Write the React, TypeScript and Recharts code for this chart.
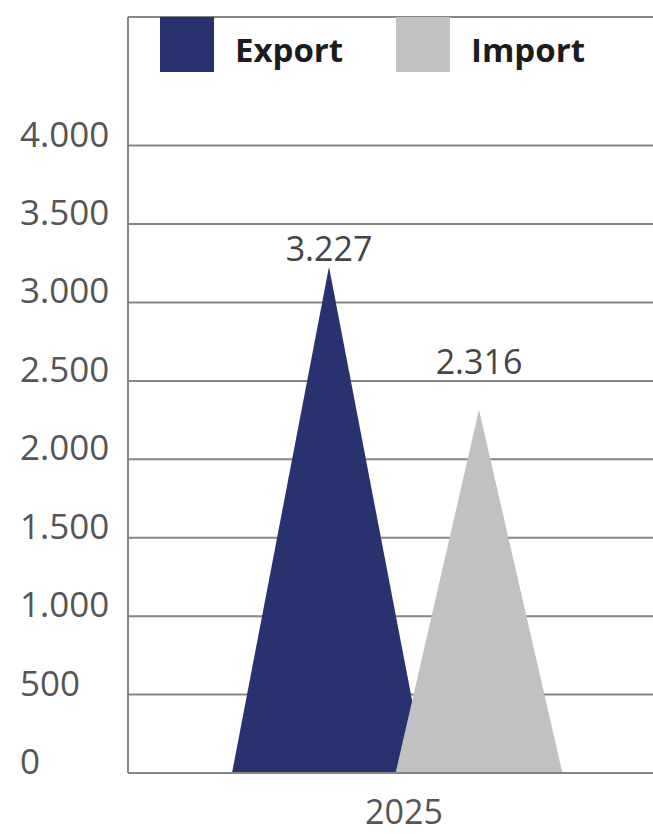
import React from "react";
import { BarChart, Bar, XAxis, YAxis, CartesianGrid, LabelList } from "recharts";

const categories = ["2025"];
const exportValues = [3227];
const importValues = [2316];
const yTicks = [0, 500, 1000, 1500, 2000, 2500, 3000, 3500, 4000];
const seriesNames = ["Export", "Import"];
const seriesColors = ["#28326f", "#c1c1c1"];

const data = categories.map((year, i) => ({
  year,
  Export: exportValues[i],
  Import: importValues[i],
}));

const FONT = "'Open Sans', sans-serif";
const GRID = "#858585";

// 3227 -> "3.227"
function fmt(v: number) {
  return String(v).replace(/\B(?=(\d{3})+(?!\d))/g, ".");
}

function triangle(scale: number) {
  return (props: any) => {
    const { x, y, width, height, fill } = props;
    const cx = x + width / 2;
    const half = (width * scale) / 2;
    return (
      <path
        d={`M${cx - half},${y + height} L${cx},${y} L${cx + half},${y + height} Z`}
        fill={fill}
      />
    );
  };
}

const YTick = ({ y, payload }: any) => (
  <text x={20} y={y + 1} fill="#555" fontSize={35} fontFamily={FONT}>
    {fmt(payload.value)}
  </text>
);

const XTick = ({ x, y, payload }: any) => (
  <text x={x} y={y + 51} fill="#555" fontSize={34} fontFamily={FONT} textAnchor="middle">
    {payload.value}
  </text>
);

function LegendRow() {
  const slots = [160, 396];
  return (
    <svg width={653} height={80} style={{ position: "absolute", left: 0, top: 0 }}>
      {seriesNames.map((name, i) => (
        <g key={name}>
          <rect x={slots[i]} y={17} width={54} height={55} fill={seriesColors[i]} />
          <text
            x={slots[i] + 75}
            y={62}
            fontSize={33}
            fontWeight={700}
            fontFamily={FONT}
            fill="#1c1c1c"
          >
            {name}
          </text>
        </g>
      ))}
    </svg>
  );
}

export default function App() {
  return (
    <div style={{ position: "absolute", left: 0, top: 0, width: 653, height: 834, background: "#fff" }}>
      <BarChart
        width={653}
        height={834}
        data={data}
        margin={{ top: 17, right: 0, left: 0, bottom: 0 }}
        barSize={194}
        barGap={-44}
      >
        <CartesianGrid vertical={false} stroke={GRID} strokeWidth={2} />
        <XAxis
          dataKey="year"
          height={61}
          padding={{ left: 27, right: 0 }}
          axisLine={{ stroke: GRID, strokeWidth: 2 }}
          tickLine={false}
          tickSize={0}
          tickMargin={0}
          tick={<XTick />}
        />
        <YAxis
          width={128}
          domain={[0, 4820]}
          ticks={yTicks}
          interval={0}
          allowDataOverflow
          axisLine={{ stroke: GRID, strokeWidth: 2 }}
          tickLine={false}
          tickSize={0}
          tickMargin={0}
          tick={<YTick />}
        />
        <Bar dataKey="Export" fill={seriesColors[0]} shape={triangle(1)} isAnimationActive={false}>
          <LabelList
            dataKey="Export"
            position="top"
            offset={6}
            formatter={(v: any) => fmt(Number(v))}
            fill="#444"
            fontSize={34}
            fontFamily={FONT}
          />
        </Bar>
        <Bar dataKey="Import" fill={seriesColors[1]} shape={triangle(0.86)} isAnimationActive={false}>
          <LabelList
            dataKey="Import"
            position="top"
            offset={36}
            formatter={(v: any) => fmt(Number(v))}
            fill="#444"
            fontSize={34}
            fontFamily={FONT}
          />
        </Bar>
      </BarChart>
      <LegendRow />
    </div>
  );
}
